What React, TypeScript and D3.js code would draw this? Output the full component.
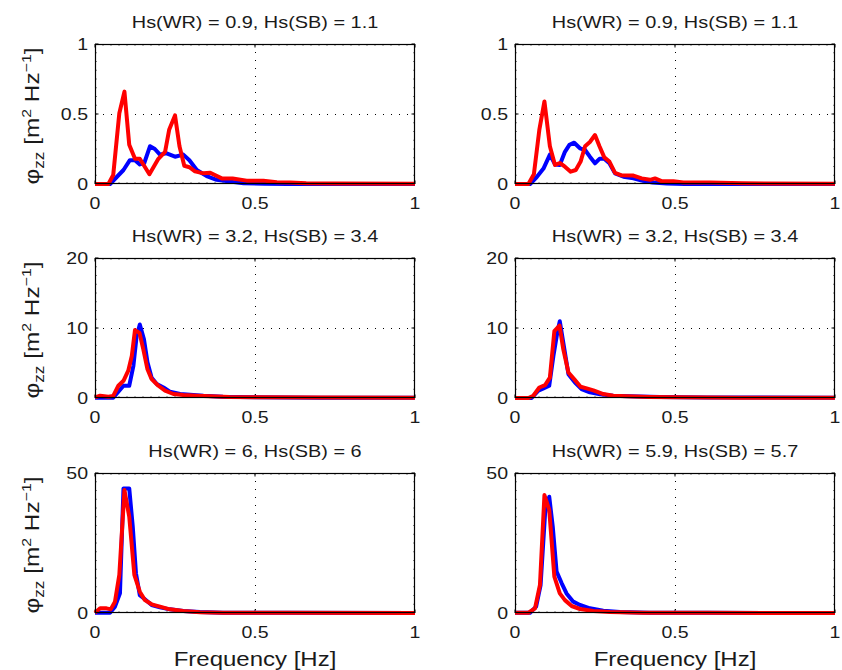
import React from 'react';
import * as d3 from 'd3';

type Pt = [number, number];

// frequency [Hz], spectral density — blue = WR, red = SB
const wr1a: Pt[] = [[0, 0], [0.047, 0], [0.068, 0.05], [0.089, 0.1], [0.109, 0.17], [0.125, 0.17], [0.14, 0.14], [0.154, 0.15], [0.172, 0.27], [0.187, 0.25], [0.203, 0.21], [0.222, 0.22], [0.25, 0.195], [0.276, 0.21], [0.295, 0.17], [0.318, 0.1], [0.349, 0.057], [0.38, 0.03], [0.422, 0.017], [0.464, 0.006], [0.53, 0.002], [0.6, 0], [1, 0]];
const sb1a: Pt[] = [[0, 0], [0.042, 0], [0.057, 0.064], [0.076, 0.505], [0.092, 0.66], [0.107, 0.28], [0.125, 0.18], [0.14, 0.18], [0.17, 0.07], [0.198, 0.18], [0.219, 0.23], [0.232, 0.39], [0.25, 0.49], [0.264, 0.27], [0.279, 0.13], [0.295, 0.12], [0.3125, 0.09], [0.339, 0.076], [0.36, 0.08], [0.396, 0.04], [0.43, 0.04], [0.474, 0.024], [0.526, 0.024], [0.568, 0.012], [0.61, 0.01], [0.66, 0.005], [0.75, 0.003], [1, 0.002]];

const wr1b: Pt[] = [[0, 0], [0.047, 0], [0.068, 0.05], [0.089, 0.11], [0.109, 0.21], [0.125, 0.14], [0.14, 0.136], [0.156, 0.23], [0.17, 0.28], [0.185, 0.295], [0.203, 0.255], [0.219, 0.243], [0.234, 0.195], [0.25, 0.148], [0.264, 0.18], [0.279, 0.18], [0.295, 0.148], [0.3125, 0.076], [0.339, 0.052], [0.37, 0.04], [0.396, 0.024], [0.43, 0.01], [0.474, 0.003], [0.53, 0], [1, 0]];
const sb1b: Pt[] = [[0, 0], [0.042, 0], [0.059, 0.07], [0.076, 0.386], [0.092, 0.59], [0.109, 0.27], [0.125, 0.136], [0.14, 0.15], [0.156, 0.124], [0.174, 0.088], [0.19, 0.1], [0.205, 0.16], [0.219, 0.27], [0.234, 0.3], [0.25, 0.35], [0.264, 0.27], [0.279, 0.19], [0.295, 0.16], [0.3125, 0.08], [0.333, 0.062], [0.37, 0.06], [0.396, 0.04], [0.422, 0.03], [0.4375, 0.04], [0.458, 0.02], [0.495, 0.02], [0.526, 0.01], [0.61, 0.01], [0.71, 0.005], [1, 0.002]];

const wr2a: Pt[] = [[0, 0.05], [0.057, 0.05], [0.073, 0.9], [0.089, 1.75], [0.107, 1.75], [0.12, 4.6], [0.13, 8.8], [0.14, 10.5], [0.153, 8.4], [0.164, 5.1], [0.177, 2.9], [0.193, 2.0], [0.214, 1.5], [0.234, 0.9], [0.266, 0.57], [0.297, 0.47], [0.339, 0.33], [0.4, 0.19], [0.505, 0.09], [0.7, 0.05], [1, 0.03]];
const sb2a: Pt[] = [[0, 0.1], [0.016, 0.33], [0.042, 0.19], [0.057, 0.3], [0.073, 1.75], [0.089, 2.46], [0.104, 3.9], [0.115, 6.0], [0.125, 9.7], [0.139, 9.3], [0.151, 6.95], [0.164, 4.1], [0.177, 2.7], [0.198, 1.75], [0.219, 1.04], [0.245, 0.57], [0.276, 0.43], [0.318, 0.33], [0.36, 0.24], [0.42, 0.14], [0.505, 0.1], [0.7, 0.06], [1, 0.05]];

const wr2b: Pt[] = [[0, 0], [0.052, 0], [0.073, 1.04], [0.089, 1.37], [0.107, 1.75], [0.12, 6.0], [0.132, 9.3], [0.14, 10.97], [0.151, 7.9], [0.167, 3.4], [0.1875, 2.2], [0.208, 1.28], [0.234, 0.8], [0.266, 0.52], [0.307, 0.33], [0.36, 0.24], [0.453, 0.14], [0.6, 0.08], [1, 0.03]];
const sb2b: Pt[] = [[0, 0], [0.042, 0], [0.057, 0.33], [0.076, 1.5], [0.094, 1.85], [0.109, 2.9], [0.123, 9.55], [0.139, 10.35], [0.151, 6.95], [0.167, 3.64], [0.1875, 2.55], [0.205, 1.6], [0.224, 1.37], [0.245, 1.09], [0.276, 0.57], [0.307, 0.33], [0.349, 0.24], [0.42, 0.14], [0.505, 0.09], [0.7, 0.05], [1, 0.03]];

const wr3a: Pt[] = [[0, 0.1], [0.047, 0.1], [0.0625, 2.26], [0.078, 7.0], [0.089, 44.5], [0.107, 44.5], [0.118, 30.8], [0.128, 14.2], [0.14, 6.4], [0.156, 4.9], [0.177, 2.86], [0.203, 2.0], [0.234, 1.3], [0.276, 0.71], [0.328, 0.36], [0.4, 0.12], [0.6, 0.05], [1, 0.02]];
const sb3a: Pt[] = [[0, 0.1], [0.016, 1.67], [0.036, 1.67], [0.049, 1.3], [0.0625, 4.05], [0.076, 13.6], [0.092, 43.9], [0.107, 34.4], [0.123, 13.6], [0.14, 7.6], [0.156, 4.6], [0.177, 3.1], [0.203, 2.26], [0.234, 1.3], [0.276, 0.71], [0.328, 0.24], [0.4, 0.12], [0.6, 0.05], [1, 0.02]];

const wr3b: Pt[] = [[0, 0.1], [0.047, 0.1], [0.066, 2.26], [0.08, 10], [0.094, 35.6], [0.107, 41.5], [0.118, 30.8], [0.13, 14.8], [0.146, 10.6], [0.161, 7.0], [0.182, 4.05], [0.203, 2.86], [0.234, 1.67], [0.276, 0.83], [0.328, 0.36], [0.42, 0.12], [0.6, 0.05], [1, 0.02]];
const sb3b: Pt[] = [[0, 0.1], [0.042, 0.1], [0.0625, 1.67], [0.078, 10], [0.092, 42.1], [0.107, 36.8], [0.123, 13], [0.14, 7.0], [0.156, 4.6], [0.177, 2.5], [0.203, 1.43], [0.245, 0.71], [0.297, 0.36], [0.4, 0.12], [0.6, 0.05], [1, 0.02]];

const titlesLeft = ['Hs(WR) = 0.9, Hs(SB) = 1.1', 'Hs(WR) = 3.2, Hs(SB) = 3.4', 'Hs(WR) = 6, Hs(SB) = 6'];
const titlesRight = ['Hs(WR) = 0.9, Hs(SB) = 1.1', 'Hs(WR) = 3.2, Hs(SB) = 3.4', 'Hs(WR) = 5.9, Hs(SB) = 5.7'];
const yMaxes = [1, 20, 50];
const yTicks = [[0, 0.5, 1], [0, 10, 20], [0, 50]];
const yTickLabels = [['0', '0.5', '1'], ['0', '10', '20'], ['0', '50']];
const xTicks = [0, 0.5, 1];
const xTickLabels = ['0', '0.5', '1'];
const blueSeries = [[wr1a, wr1b], [wr2a, wr2b], [wr3a, wr3b]];
const redSeries = [[sb1a, sb1b], [sb2a, sb2b], [sb3a, sb3b]];

const FONT = '"Liberation Sans", Arial, Helvetica, sans-serif';
const colLeft = [95, 515];
const rowTop = [44, 258, 473];
const W = 320;
const H = 140;

function Panel({ left, top, title, yMax, ticks, tickLabels, blue, red, yLabel, xLabel }: any) {
  const x = d3.scaleLinear().domain([0, 1]).range([left, left + W]);
  const y = d3.scaleLinear().domain([0, yMax]).range([top + H, top]);
  const line = d3.line<Pt>().x(d => x(d[0])).y(d => y(d[1]));
  const minorX = d3.range(1, 40).map(i => i / 40);
  const minorY = d3.range(1, 16).map(i => (i * yMax) / 16);
  const bottom = top + H;
  return (
    <g>
      {/* dotted grid */}
      {xTicks.filter(t => t > 0 && t < 1).map(t => (
        <line key={'gx' + t} x1={Math.round(x(t)) + 0.5} x2={Math.round(x(t)) + 0.5} y1={top} y2={bottom}
          stroke="#000" strokeWidth={1} strokeDasharray="1 7" />
      ))}
      {ticks.filter((t: number) => t > 0 && t < yMax).map((t: number) => (
        <line key={'gy' + t} x1={left} x2={left + W} y1={Math.round(y(t)) + 0.5} y2={Math.round(y(t)) + 0.5}
          stroke="#000" strokeWidth={1} strokeDasharray="1 7" />
      ))}
      {/* minor ticks */}
      {minorX.map(t => (
        <g key={'mx' + t} stroke="#666" strokeWidth={0.8}>
          <line x1={x(t)} x2={x(t)} y1={bottom} y2={bottom - 2} />
          <line x1={x(t)} x2={x(t)} y1={top} y2={top + 2} />
        </g>
      ))}
      {minorY.map(t => (
        <g key={'my' + t} stroke="#666" strokeWidth={0.8}>
          <line x1={left} x2={left + 2} y1={y(t)} y2={y(t)} />
          <line x1={left + W} x2={left + W - 2} y1={y(t)} y2={y(t)} />
        </g>
      ))}
      {/* major ticks */}
      {xTicks.map(t => (
        <g key={'tx' + t} stroke="#000" strokeWidth={1}>
          <line x1={x(t)} x2={x(t)} y1={bottom} y2={bottom - 3.5} />
          <line x1={x(t)} x2={x(t)} y1={top} y2={top + 3.5} />
        </g>
      ))}
      {ticks.map((t: number) => (
        <g key={'ty' + t} stroke="#000" strokeWidth={1}>
          <line x1={left} x2={left + 3.5} y1={y(t)} y2={y(t)} />
          <line x1={left + W} x2={left + W - 3.5} y1={y(t)} y2={y(t)} />
        </g>
      ))}
      {/* curves */}
      <path d={line(blue) || ''} fill="none" stroke="#0000ff" strokeWidth={4} strokeLinejoin="round" />
      <path d={line(red) || ''} fill="none" stroke="#ff0000" strokeWidth={4} strokeLinejoin="round" />
      {/* box */}
      <rect x={left + 0.5} y={top + 0.5} width={W - 1} height={H - 1} fill="none" stroke="#000" strokeWidth={1.2} />
      {/* tick labels */}
      {ticks.map((t: number, i: number) => (
        <text key={'ly' + t} transform={`translate(${left - 7},${y(t) + 6}) scale(1.15,1)`} textAnchor="end"
          fontSize={17} fill="#1a1a1a" fontFamily={FONT}>{tickLabels[i]}</text>
      ))}
      {xTicks.map((t, i) => (
        <text key={'lx' + t} transform={`translate(${x(t)},${bottom + 25}) scale(1.15,1)`} textAnchor="middle"
          fontSize={17} fill="#1a1a1a" fontFamily={FONT}>{xTickLabels[i]}</text>
      ))}
      <text transform={`translate(${left + W / 2},${top - 16}) scale(1.17,1)`} textAnchor="middle"
        fontSize={17} fill="#1a1a1a" fontFamily={FONT}>{title}</text>
      {xLabel && (
        <text transform={`translate(${left + W / 2},${bottom + 53}) scale(1.2,1)`} textAnchor="middle"
          fontSize={20} fill="#1a1a1a" fontFamily={FONT}>Frequency [Hz]</text>
      )}
      {yLabel && (
        <text transform={`translate(39,${top + H / 2 + 2}) rotate(-90) scale(1.22,1)`} textAnchor="middle"
          fontSize={20} fill="#1a1a1a" fontFamily={FONT}>
          φ<tspan fontSize={14} dy={5}>zz</tspan>
          <tspan dy={-5}> [m</tspan>
          <tspan fontSize={13} dy={-8}>2</tspan>
          <tspan dy={8}> Hz</tspan>
          <tspan fontSize={13} dy={-8}>−1</tspan>
          <tspan dy={8}>]</tspan>
        </text>
      )}
    </g>
  );
}

export default function App() {
  return (
    <svg width={842} height={670} style={{ position: 'absolute', left: 0, top: 0, background: '#fff' }}>
      <rect width={842} height={670} fill="#fff" />
      {rowTop.map((top, r) =>
        colLeft.map((left, c) => (
          <Panel key={`${r}-${c}`} left={left} top={top}
            title={c === 0 ? titlesLeft[r] : titlesRight[r]}
            yMax={yMaxes[r]} ticks={yTicks[r]} tickLabels={yTickLabels[r]}
            blue={blueSeries[r][c]} red={redSeries[r][c]}
            yLabel={c === 0} xLabel={r === 2} />
        ))
      )}
    </svg>
  );
}
